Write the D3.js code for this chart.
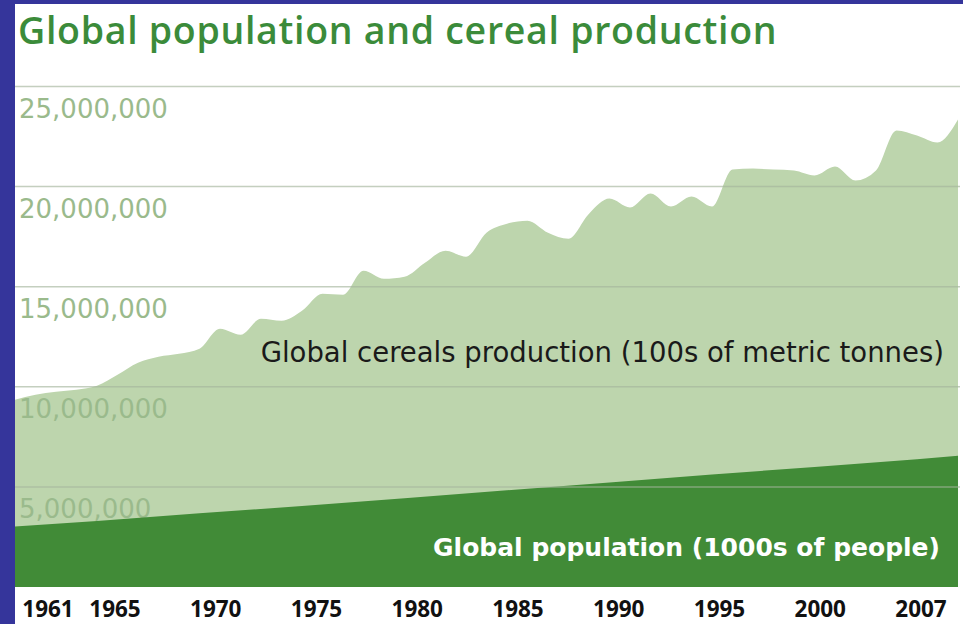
<!DOCTYPE html>
<html>
<head>
<meta charset="utf-8">
<script src="https://cdn.jsdelivr.net/npm/d3@7/dist/d3.min.js"></script>
<style>
  html, body { margin: 0; padding: 0; background: #35359b; }
  text { font-family: "DejaVu Sans", "Open Sans", sans-serif; }
</style>
</head>
<body>
<div id="chart"></div>
<script>
// cereals production, 100s of metric tonnes
const cerealYears = d3.range(1961, 2008);
const cerealValues = [
  9350000, 9600000, 9750000, 9850000, 10050000, 10600000, 11200000, 11500000, 11650000, 11900000,
  12900000, 12600000, 13400000, 13300000, 13800000, 14650000, 14600000, 15800000, 15400000, 15500000,
  16200000, 16800000, 16500000, 17700000, 18150000, 18300000, 17700000, 17400000, 18650000, 19400000,
  18950000, 19650000, 19000000, 19500000, 19000000, 20850000, 20900000, 20850000, 20800000, 20550000,
  21000000, 20300000, 20800000, 22800000, 22550000, 22200000, 23350000
];

// population, 1000s of people
const popYears = [1961, 1965, 1970, 1975, 1980, 1985, 1990, 1995, 2000, 2005, 2007];
const popValues = [3020000, 3300000, 3680000, 4050000, 4430000, 4830000, 5220000, 5620000, 6000000, 6380000, 6550000];

const yTicks = [5000000, 10000000, 15000000, 20000000, 25000000];
const xTickLabels = ['1961', '1965', '1970', '1975', '1980', '1985', '1990', '1995', '2000', '2007'];

const width = 963, height = 624;

const svg = d3.select('#chart').append('svg')
  .attr('width', width)
  .attr('height', height);

// blue frame + white panel
svg.append('rect').attr('width', width).attr('height', height).attr('fill', '#35359b');
svg.append('rect').attr('x', 15).attr('y', 4).attr('width', width - 15).attr('height', height - 4).attr('fill', '#ffffff');

const x = d3.scaleLinear().domain([1961, 2007]).range([15, 958]);
const y = d3.scaleLinear().domain([0, 25000000]).range([587, 86.5]);

const cereal = cerealYears.map((yr, i) => ({ year: yr, value: cerealValues[i] }));
const pop = popYears.map((yr, i) => ({ year: yr, value: popValues[i] }));

svg.append('text')
  .attr('x', 18)
  .attr('y', 44)
  .attr('fill', '#3b8b3a')
  .style('font-family', '"Open Sans", sans-serif')
  .style('font-size', '37.5px')
  .style('font-weight', 600)
  .style('letter-spacing', '0.7px')
  .text('Global population and cereal production');

const area = d3.area()
  .x(d => x(d.year))
  .y0(y(0))
  .y1(d => y(d.value));

svg.append('path')
  .datum(cereal)
  .attr('fill', '#bdd5ad')
  .attr('d', area.curve(d3.curveMonotoneX));

// y labels sit under the gridline
svg.append('g').selectAll('text')
  .data(yTicks)
  .join('text')
  .attr('x', 19)
  .attr('y', d => y(d) + 31)
  .attr('fill', '#9aba8c')
  .style('font-size', '26px')
  .text(d => d3.format(',')(d));

svg.append('path')
  .datum(pop)
  .attr('fill', '#418b37')
  .attr('d', area.curve(d3.curveLinear));

svg.append('g').selectAll('line')
  .data(yTicks)
  .join('line')
  .attr('x1', 15)
  .attr('x2', 960)
  .attr('y1', d => y(d))
  .attr('y2', d => y(d))
  .attr('stroke', '#a5b59c')
  .attr('stroke-opacity', 0.65)
  .attr('stroke-width', 1.5);

svg.append('text')
  .attr('x', 944)
  .attr('y', 362)
  .attr('text-anchor', 'end')
  .attr('fill', '#1a1a1a')
  .style('font-size', '27.5px')
  .text('Global cereals production (100s of metric tonnes)');

svg.append('text')
  .attr('x', 940)
  .attr('y', 556)
  .attr('text-anchor', 'end')
  .attr('fill', '#ffffff')
  .style('font-size', '25px')
  .style('font-weight', 700)
  .text('Global population (1000s of people)');

// year labels are spaced evenly, 1961 squeezed in before 1965
const labelX = d3.scaleLinear().domain([0, 1, xTickLabels.length - 1]).range([48, 115, 921]);
svg.append('g').selectAll('text')
  .data(xTickLabels)
  .join('text')
  .attr('x', (d, i) => labelX(i))
  .attr('y', 617)
  .attr('text-anchor', 'middle')
  .attr('fill', '#111')
  .style('font-family', '"Open Sans", sans-serif')
  .style('font-size', '22.5px')
  .style('font-weight', 700)
  .text(d => d);
</script>
</body>
</html>
